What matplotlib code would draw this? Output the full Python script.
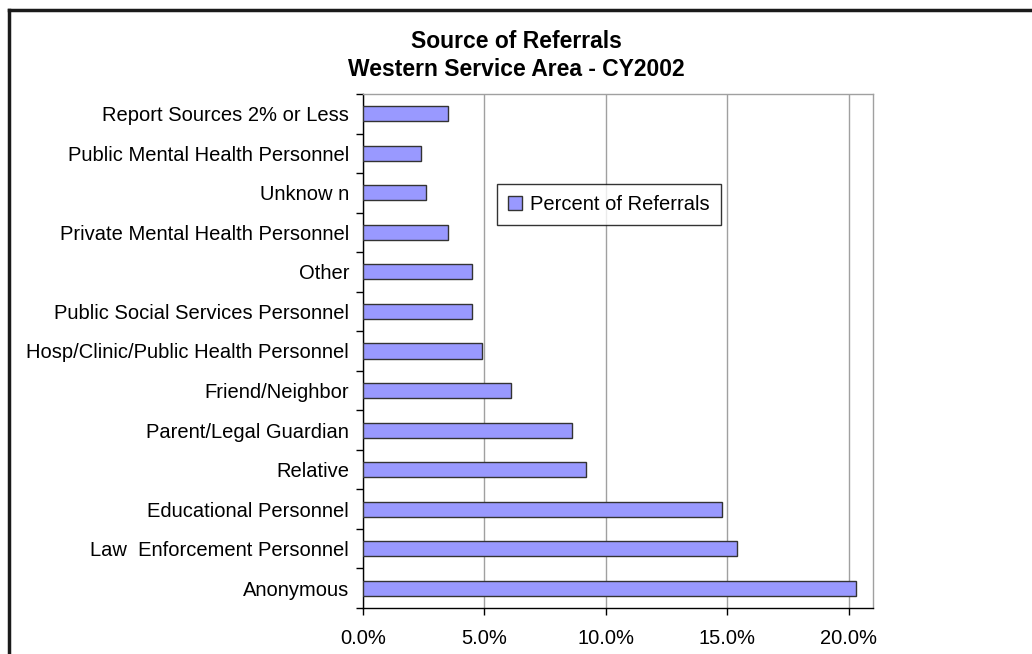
import matplotlib
matplotlib.use("Agg")
import matplotlib.pyplot as plt
from matplotlib.lines import Line2D
from matplotlib.ticker import FixedLocator, PercentFormatter

plt.rcParams['font.family'] = ['Liberation Sans', 'DejaVu Sans']

# data, top to bottom as shown
categories = ["Report Sources 2% or Less", "Public Mental Health Personnel", "Unknow n",
              "Private Mental Health Personnel", "Other", "Public Social Services Personnel",
              "Hosp/Clinic/Public Health Personnel", "Friend/Neighbor", "Parent/Legal Guardian",
              "Relative", "Educational Personnel", "Law  Enforcement Personnel", "Anonymous"]
percent = [3.5, 2.4, 2.6, 3.5, 4.5, 4.5, 4.9, 6.1, 8.6, 9.2, 14.8, 15.4, 20.3]
x_ticks = [0, 5, 10, 15, 20]

fig = plt.figure(figsize=(10.32, 6.54), dpi=100)
W, H = 1032, 654
# axes box in pixels: left 363, right 873, top 94, bottom 608
ax = fig.add_axes([363 / W, 1 - 608 / H, (873 - 363) / W, (608 - 94) / H])

n = len(categories)
ypos = list(range(n))[::-1]
ax.barh(ypos, percent, height=0.38, color="#9999FF", edgecolor="#333333",
        linewidth=1.0, label="Percent of Referrals", zorder=3)

ax.set_xlim(0, 21)
ax.set_ylim(-0.5, n - 0.5)
ax.xaxis.set_major_locator(FixedLocator(x_ticks))
ax.xaxis.set_major_formatter(PercentFormatter(decimals=1))
ax.set_yticks(ypos)
ax.set_yticklabels(categories)
ax.yaxis.set_minor_locator(FixedLocator([i - 0.5 for i in range(n + 1)]))
ax.tick_params(axis="y", which="major", length=0, pad=10, labelsize=14.5)
ax.tick_params(axis="y", which="minor", length=5, width=1, direction="out")
ax.tick_params(axis="x", length=5, width=1, direction="out", pad=10, labelsize=14.5)

ax.grid(axis="x", color="#A0A0A0", linewidth=1, zorder=0)
ax.spines["top"].set_color("#A0A0A0")
ax.spines["right"].set_color("#A0A0A0")
ax.spines["left"].set_color("black")
ax.spines["bottom"].set_color("black")
for s in ax.spines.values():
    s.set_linewidth(1)

leg = ax.legend(loc="upper left", bbox_to_anchor=((497 - 363) / 510, (608 - 184) / 514),
                fontsize=14.5, frameon=True, fancybox=False, edgecolor="black",
                handlelength=0.7, handleheight=0.7, handletextpad=0.4,
                borderpad=0.55, borderaxespad=0)
leg.get_frame().set_linewidth(1)

fig.text(0.5, 1 - 42 / H, "Source of Referrals", ha="center", va="center",
         fontsize=16.5, fontweight="bold")
fig.text(0.5, 1 - 69 / H, "Western Service Area - CY2002", ha="center", va="center",
         fontsize=16.5, fontweight="bold")

# outer frame of the chart area (left and top edges visible)
fig.add_artist(Line2D([9 / W, 9 / W], [0, 1 - 10 / H], color="#1a1a1a", linewidth=2.5,
                      transform=fig.transFigure))
fig.add_artist(Line2D([9 / W, 1], [1 - 10 / H, 1 - 10 / H], color="#1a1a1a", linewidth=2.5,
                      transform=fig.transFigure))

fig.savefig("out.png", dpi=100)
